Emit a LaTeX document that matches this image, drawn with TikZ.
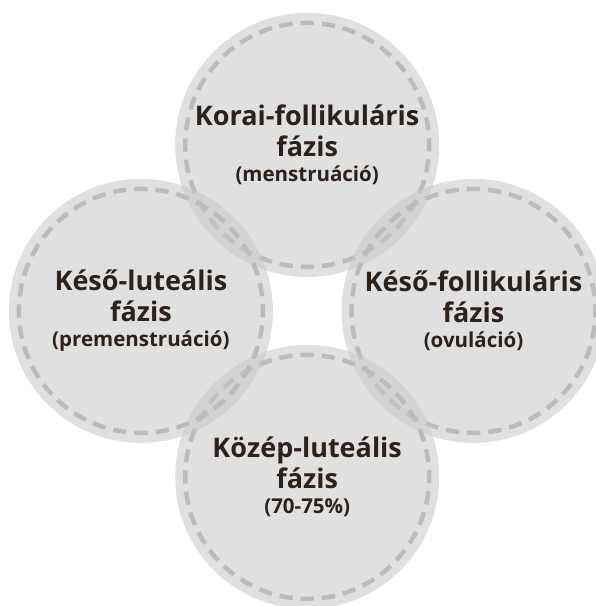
\documentclass[tikz,border=0pt]{standalone}
\usepackage{fontspec}
\setmainfont{Open Sans}
\usepackage{tikz}
\definecolor{phasegray}{RGB}{200,200,200}
\definecolor{ringgray}{RGB}{188,188,188}
\definecolor{txt}{RGB}{45,33,28}
\tikzset{
	phase/.style={circle,minimum size=264pt,inner sep=0pt,fill=phasegray,fill opacity=0.56},
	ring/.style={draw=ringgray,line width=4.5pt,dash pattern=on 13.3pt off 8pt,dash phase=6.65pt},
	lbl/.style={text=txt,align=center,font=\fontsize{27}{31}\selectfont\bfseries}
}
\newcommand{\subline}[1]{{\fontsize{20.5}{31}\selectfont #1}}

\begin{document}
\begin{tikzpicture}[x=1pt,y=-1pt]
							\useasboundingbox (0,0) rectangle (596,606);

							\node [phase] (top) at (307.2,144.9) {};
							\draw [ring] (top) circle (122pt);
							\node [phase] (right) at (473.5,310.9) {};
							\draw [ring] (right) circle (122pt);
							\node [phase] (bottom) at (307.2,476.9) {};
							\draw [ring] (bottom) circle (122pt);
							\node [phase] (left) at (140.9,310.9) {};
							\draw [ring] (left) circle (122pt);

							\node [lbl] (korai) at (top) {Korai-follikuláris\\fázis\\[-6pt]\subline{(menstruáció)}};
							\node [lbl] (keso-f) at (right) {Késő-follikuláris\\fázis\\[-6pt]\subline{(ovuláció)}};
							\node [lbl] (kozep) at (bottom) {Közép-luteális\\fázis\\[-6pt]\subline{(70-75\%)}};
							\node [lbl] (keso-l) at (left) {Késő-luteális\\fázis\\[-6pt]\subline{(premenstruáció)}};
					\end{tikzpicture}
\end{document}
